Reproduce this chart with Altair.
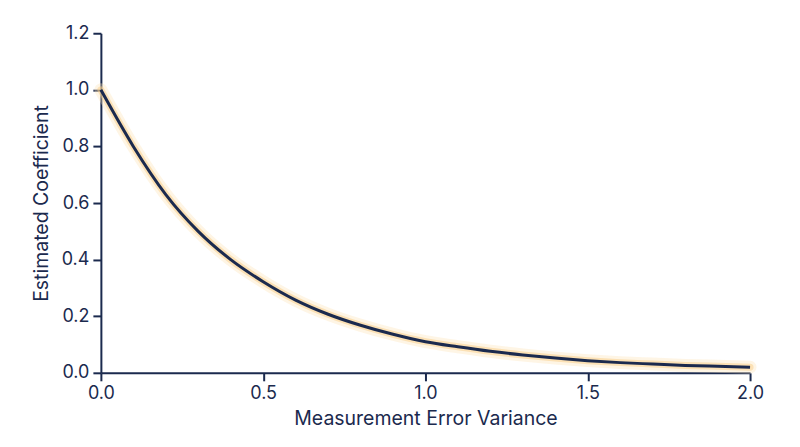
import altair as alt
import pandas as pd

x_vals = [0.0, 0.1, 0.2, 0.3, 0.4, 0.5, 0.6, 0.7, 0.8, 0.9, 1.0,
          1.1, 1.2, 1.3, 1.4, 1.5, 1.6, 1.7, 1.8, 1.9, 2.0]
y_vals = [1.0, 0.80, 0.63, 0.50, 0.40, 0.322, 0.257, 0.207, 0.168, 0.136, 0.11,
          0.092, 0.076, 0.063, 0.052, 0.043, 0.036, 0.031, 0.026, 0.023, 0.02]

df = pd.DataFrame({"x": x_vals, "y": y_vals})

NAVY = "#1b2a4e"
FONT = "Inter"

xenc = alt.X("x:Q", title="Measurement Error Variance",
             scale=alt.Scale(domain=[0, 2], nice=False),
             axis=alt.Axis(values=[0, 0.5, 1.0, 1.5, 2.0], format=".1f"))
yenc = alt.Y("y:Q", title="Estimated Coefficient",
             scale=alt.Scale(domain=[0, 1.2], nice=False),
             axis=alt.Axis(values=[0, 0.2, 0.4, 0.6, 0.8, 1.0, 1.2], format=".1f"))

glow1 = alt.Chart(df).mark_line(interpolate="monotone", color="#fde2b4",
                                 strokeWidth=13, opacity=0.35, strokeCap="round").encode(x=xenc, y=yenc)
glow2 = alt.Chart(df).mark_line(interpolate="monotone", color="#f9cd86",
                                 strokeWidth=7, opacity=0.5, strokeCap="round").encode(x=xenc, y=yenc)
line = alt.Chart(df).mark_line(interpolate="monotone", color=NAVY,
                                strokeWidth=3).encode(x=xenc, y=yenc)

chart = (glow1 + glow2 + line).properties(
    width=650, height=340,
    autosize=alt.AutoSizeParams(type="none"),
    padding={"left": 93, "top": 25, "right": 42, "bottom": 66},
    background="white",
).configure_view(stroke=None).configure_axis(
    grid=False,
    domainColor=NAVY, domainWidth=2,
    tickColor=NAVY, tickWidth=2, tickSize=8,
    labelColor=NAVY, labelFont=FONT, labelFontSize=18,
    titleColor=NAVY, titleFont=FONT, titleFontSize=19.5, titleFontWeight="normal",
    labelPadding=4, labelFlush=False,
).configure_axisY(titlePadding=10).configure_axisX(titlePadding=7)

chart.save("out.html", embed_options={"renderer": "svg", "actions": False})
